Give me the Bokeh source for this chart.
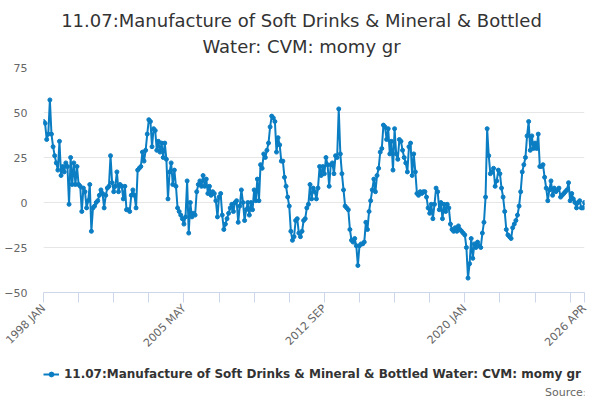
import math
from bokeh.plotting import figure
from bokeh.layouts import column
from bokeh.models import (FixedTicker, Legend, LegendItem, ColumnDataSource,
                          Range1d, Label)
from bokeh.embed import file_html
from bokeh.resources import INLINE

# ---------------- data ----------------
START_YEAR = 1998
MONTHS = ["JAN", "FEB", "MAR", "APR", "MAY", "JUN",
          "JUL", "AUG", "SEP", "OCT", "NOV", "DEC"]

VALUES = [
    45, 44, 35, 38, 57, 38, 31, 26, 22, 18,
    34, 15, 20, 17, 22, 20, -1, 25, 10, 22,
    10, 20, 10, 9, -5, 8, 6, -3, 1, 10,
    -16, -3, -2, 0, 1, 4, 7, 5, -3, 4,
    8, 9, 26, 11, 6, 9, 17, 6, 10, 9,
    2, 9, -4, -4, -5, 4, 7, 4, -3, 18,
    19, 20, 28, 23, 29, 38, 46, 45, 31, 41,
    40, 29, 34, 28, 33, 25, 33, 24, 2, 17,
    22, 10, 18, 9, -3, -5, -7, -9, -12, -8,
    12, -17, 0, -8, -6, -7, 6, 10, 12, 9,
    15, 9, 13, 5, 9, 4, 6, 5, 1, -8,
    3, 5, -7, -15, -12, -9, -6, -3, -1, -5,
    0, 1, -11, -2, 7, 0, -10, -4, 0, -7,
    0, -4, 7, 1, 13, 1, 21, 19, 27, 25,
    29, 33, 42, 48, 47, 45, 28, 36, 32, 23,
    23, 14, 9, 3, -2, -16, -21, -19, -10, -9,
    -17, -19, -16, -10, -9, -3, -1, 10, 2, 8,
    6, 2, 8, 20, 15, 20, 16, 25, 21, 9,
    21, 22, 16, 26, 25, 52, 27, 16, 7, -2,
    -3, -4, -15, -21, -22, -20, -24, -35, -24, -23,
    -23, -22, -11, -15, -5, 1, 7, 13, 6, 15,
    19, 28, 30, 43, 42, 35, 41, 27, 34, 18,
    41, 27, 24, 35, 34, 29, 25, 22, 17, 31,
    33, 15, 27, 17, 5, 4, 6, 5, 6, 6,
    3, -3, -6, -1, -9, -1, 8, 6, -4, 0,
    -9, -1, -5, -1, -3, -12, -15, -16, -14, -16,
    -13, -15, -16, -17, -18, -25, -42, -34, -20, -31,
    -23, -25, -22, -24, -25, -17, -11, 3, 41, 26,
    16, 17, 19, 9, 12, 18, 16, 8, 3, -5,
    -15, -18, -19, -20, -14, -12, -10, -7, -2, 6,
    17, 21, 25, 37, 45, 29, 37, 30, 33, 30,
    38, 20, 20, 21, 14, 8, 1, 7, 12, 4,
    8, 6, 7, 8, 3, 4, 5, 6, 7, 11,
    1, 5, 2, 0, -3, 0, 1, -3, -3, 0,
]

CATEGORIES = [f"{START_YEAR + k // 12} {MONTHS[k % 12]}" for k in range(len(VALUES))]
TICK_LABELS = ["1998 JAN", "2005 MAY", "2012 SEP", "2020 JAN", "2026 APR"]
Y_TICKS = [-50, -25, 0, 25, 50, 75]
SERIES_NAME = "11.07:Manufacture of Soft Drinks & Mineral & Bottled Water: CVM: momy gr"
TITLE_LINES = ["11.07:Manufacture of Soft Drinks & Mineral & Bottled",
               "Water: CVM: momy gr"]
SOURCE_TEXT = "Source:"

# ---------------- styling ----------------
FONT = "DejaVu Sans"
LINE_COLOR = "#0b7dc3"
AXIS_COLOR = "#ccd6eb"
GRID_COLOR = "#e6e6e6"
LABEL_COLOR = "#666666"
TITLE_COLOR = "#333333"

W = 600
H_TITLE, H_MAIN, H_LEG = 57, 303, 40
FRAME_LEFT = 43   # frames of the stacked plots are aligned on this edge


def blank(height):
    f = figure(width=W, height=height, output_backend="svg", toolbar_location=None,
               x_axis_type=None, y_axis_type=None,
               min_border_left=0, min_border_right=0,
               min_border_top=0, min_border_bottom=0)
    f.outline_line_color = None
    f.grid.visible = False
    f.background_fill_color = "white"
    f.border_fill_color = "white"
    return f


# ---------------- title strip ----------------
pt = blank(H_TITLE)
for txt, cy in zip(TITLE_LINES, [20, 46]):
    pt.add_layout(Label(x=301 - FRAME_LEFT, y=H_TITLE - cy, x_units="screen",
                        y_units="screen", text=txt, text_align="center",
                        text_baseline="middle", text_font=FONT,
                        text_font_size="18px", text_color=TITLE_COLOR))

# ---------------- main chart ----------------
idx = list(range(len(VALUES)))
src = ColumnDataSource(data=dict(x=idx, y=VALUES, cat=CATEGORIES))

p = figure(width=W, height=H_MAIN, output_backend="svg", toolbar_location=None,
           x_range=Range1d(0, len(VALUES) - 1), y_range=Range1d(min(Y_TICKS), max(Y_TICKS)),
           min_border_left=FRAME_LEFT, min_border_right=16,
           min_border_top=10, min_border_bottom=68)
p.outline_line_color = None
p.background_fill_color = "white"
p.border_fill_color = "white"

ln = p.line("x", "y", source=src, line_color=LINE_COLOR, line_width=2)
sc = p.scatter("x", "y", source=src, size=4, fill_color=LINE_COLOR,
               line_color=LINE_COLOR)

major_pos = [CATEGORIES.index(t) for t in TICK_LABELS]
minor_pos = [k for k in range(0, len(VALUES) - 1, 22) if k not in major_pos]
xa = p.xaxis[0]
xa.ticker = FixedTicker(ticks=major_pos, minor_ticks=minor_pos)
xa.major_label_overrides = {k: CATEGORIES[k] for k in major_pos}
xa.axis_line_color = AXIS_COLOR
xa.major_tick_line_color = AXIS_COLOR
xa.minor_tick_line_color = AXIS_COLOR
xa.major_tick_in = 0
xa.major_tick_out = 10
xa.minor_tick_in = 0
xa.minor_tick_out = 10
xa.major_label_orientation = math.pi / 4
xa.major_label_text_font = FONT
xa.major_label_text_font_size = "11px"
xa.major_label_text_color = LABEL_COLOR
xa.major_label_standoff = 4

ya = p.yaxis[0]
ya.ticker = FixedTicker(ticks=Y_TICKS)
ya.axis_line_color = None
ya.major_tick_line_color = None
ya.minor_tick_line_color = None
ya.major_tick_out = 0
ya.major_label_standoff = 16
ya.major_label_text_font = FONT
ya.major_label_text_font_size = "11px"
ya.major_label_text_color = LABEL_COLOR

p.xgrid.grid_line_color = None
p.ygrid.grid_line_color = GRID_COLOR
p.ygrid.grid_line_width = 1

# ---------------- legend strip ----------------
pl = blank(H_LEG)
# a single missing value: nothing is drawn in the strip, the legend gets its swatch
leg_src = ColumnDataSource(data=dict(x=[float("nan")], y=[float("nan")]))
lln = pl.line("x", "y", source=leg_src, line_color=LINE_COLOR, line_width=2)
lsc = pl.scatter("x", "y", source=leg_src, size=4, fill_color=LINE_COLOR,
                 line_color=LINE_COLOR)
legend = Legend(items=[LegendItem(label=SERIES_NAME, renderers=[lln, lsc])],
                location=(0, 18), orientation="horizontal",
                label_text_font=FONT, label_text_font_size="12px",
                label_text_font_style="bold", label_text_color=TITLE_COLOR,
                glyph_width=16, glyph_height=12, label_standoff=5,
                label_height=16, padding=0, margin=0, border_line_color=None,
                background_fill_alpha=0)
pl.add_layout(legend, "center")
pl.add_layout(Label(x=586 - FRAME_LEFT, y=H_LEG - 32, x_units="screen", y_units="screen",
                    text=SOURCE_TEXT, text_align="right", text_baseline="middle",
                    text_font=FONT, text_font_size="11px", text_color="#666666"))

layout = column(pt, p, pl, spacing=0)
open("out.html", "w").write(file_html(layout, INLINE))
